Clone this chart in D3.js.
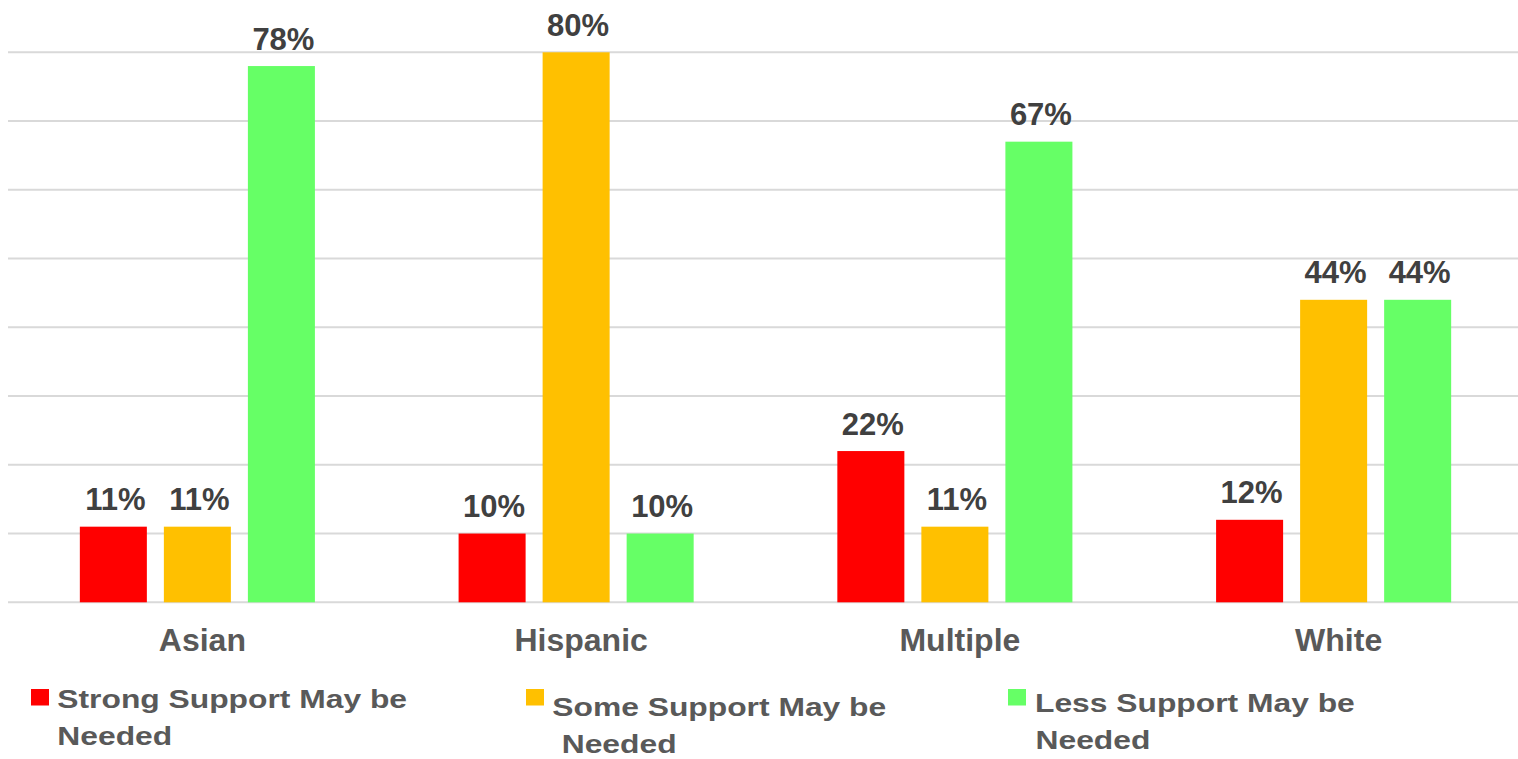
<!DOCTYPE html>
<html>
<head>
<meta charset="utf-8">
<script src="https://cdn.jsdelivr.net/npm/d3@7"></script>
<style>
  html, body { margin: 0; padding: 0; background: #fff; }
  svg { display: block; }
  text { font-family: "Liberation Sans", Arial, sans-serif; font-weight: bold; }
</style>
</head>
<body>
<svg id="chart" width="1518" height="759"></svg>
<script>
// ---- data ----
const categories = ["Asian", "Hispanic", "Multiple", "White"];
const seriesNames = ["Strong Support May be Needed", "Some Support May be Needed", "Less Support May be Needed"];
const strongValues = [11, 10, 22, 12];
const someValues = [11, 80, 11, 44];
const lessValues = [78, 10, 67, 44];
const yTicks = [0, 10, 20, 30, 40, 50, 60, 70, 80];
const colors = ["#ff0000", "#ffc000", "#66ff66"];

const seriesValues = [strongValues, someValues, lessValues];

// ---- layout ----
const svg = d3.select("#chart");
const x0 = d3.scaleBand().domain(categories).range([8, 1523]).paddingInner(0).paddingOuter(0);
const x1 = d3.scaleBand().domain(d3.range(seriesNames.length))
  .range([0, x0.bandwidth()]).paddingInner(0.2024).paddingOuter(0.855);
const y = d3.scaleLinear().domain([0, 80]).range([602.3, 52.3]);

// gridlines
svg.append("g").selectAll("line").data(yTicks).join("line")
  .attr("x1", 8).attr("x2", 1523)
  .attr("y1", d => y(d)).attr("y2", d => y(d))
  .attr("stroke", "#d9d9d9").attr("stroke-width", 2);

// bars
const groups = svg.append("g").selectAll("g").data(categories).join("g")
  .attr("transform", d => `translate(${x0(d)},0)`);

groups.selectAll("rect")
  .data((c, ci) => seriesValues.map((vals, si) => ({ si, v: vals[ci] })))
  .join("rect")
  .attr("x", d => x1(d.si))
  .attr("width", x1.bandwidth())
  .attr("y", d => y(d.v))
  .attr("height", d => y(0) - y(d.v))
  .attr("fill", d => colors[d.si]);

// data labels
groups.selectAll("text.val")
  .data((c, ci) => seriesValues.map((vals, si) => ({ si, v: vals[ci] })))
  .join("text")
  .attr("class", "val")
  .attr("x", d => x1(d.si) + x1.bandwidth() / 2 + 2)
  .attr("y", d => y(d.v) - 16.5)
  .attr("text-anchor", "middle")
  .attr("font-size", 31)
  .attr("fill", "#404040")
  .text(d => d.v + "%");

// category labels
svg.append("g").selectAll("text").data(categories).join("text")
  .attr("x", d => x0(d) + x0.bandwidth() / 2 + 5)
  .attr("y", 651)
  .attr("text-anchor", "middle")
  .attr("font-size", 32)
  .attr("fill", "#595959")
  .text(d => d);

// legend
const legendLayout = [
  { sx: 31, sy: 689, tx: 57.3, ty: 707.7, tx2: 57.3, ty2: 745 },
  { sx: 526, sy: 689, tx: 552.3, ty: 715.7, tx2: 561.7, ty2: 753.3 },
  { sx: 1008, sy: 689, tx: 1035, ty: 711.5, tx2: 1035.5, ty2: 748.5 }
];
const leg = svg.append("g").selectAll("g").data(seriesNames).join("g");
leg.append("rect")
  .attr("x", (d, i) => legendLayout[i].sx)
  .attr("y", (d, i) => legendLayout[i].sy)
  .attr("width", 18).attr("height", 16.5)
  .attr("fill", (d, i) => colors[i]);
leg.append("text")
  .attr("transform", (d, i) => `translate(${legendLayout[i].tx},${legendLayout[i].ty}) scale(1.2,1)`)
  .attr("font-size", 26.5)
  .attr("fill", "#595959")
  .text(d => d.replace(/ Needed$/, ""));
leg.append("text")
  .attr("transform", (d, i) => `translate(${legendLayout[i].tx2},${legendLayout[i].ty2}) scale(1.2,1)`)
  .attr("font-size", 26.5)
  .attr("fill", "#595959")
  .text("Needed");
</script>
</body>
</html>
